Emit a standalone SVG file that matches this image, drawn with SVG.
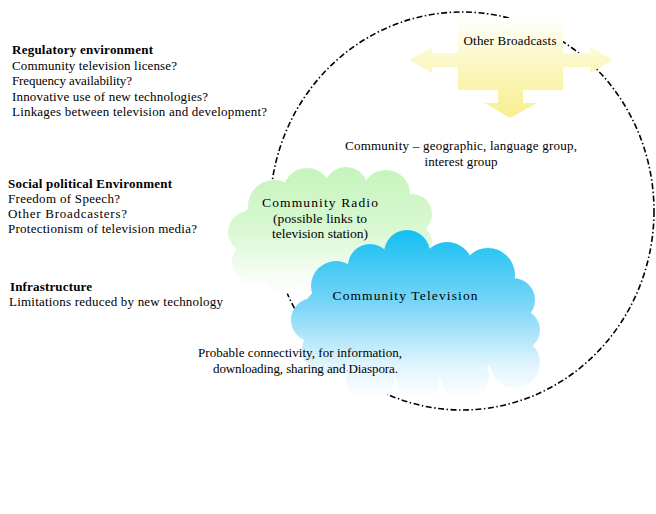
<svg xmlns="http://www.w3.org/2000/svg" width="656" height="514" viewBox="0 0 656 514">
<style>
text{font-family:"Liberation Serif","Times New Roman",serif;fill:#000;}
.t{font-size:13px;}
.b{font-size:13px;font-weight:bold;}
.c{font-size:13.5px;text-anchor:middle;}
.ring{fill:none;stroke:#000;stroke-width:1.6;stroke-dasharray:6 2.5 1.5 2.5;}
</style>
<defs>
<linearGradient id="gy" gradientUnits="userSpaceOnUse" x1="0" y1="18" x2="0" y2="118">
<stop offset="0" stop-color="#ffffff"/>
<stop offset="0.45" stop-color="#fbf8c4"/>
<stop offset="1" stop-color="#f8ee8e"/>
</linearGradient>
<linearGradient id="gg" gradientUnits="userSpaceOnUse" x1="0" y1="165" x2="0" y2="296">
<stop offset="0" stop-color="#c4f4bb"/>
<stop offset="0.5" stop-color="#d9f8d3"/>
<stop offset="0.85" stop-color="#f6fdf5"/>
<stop offset="1" stop-color="#ffffff"/>
</linearGradient>
<linearGradient id="gb" gradientUnits="userSpaceOnUse" x1="0" y1="230" x2="0" y2="400">
<stop offset="0" stop-color="#12bff2"/>
<stop offset="0.45" stop-color="#7dd6f7"/>
<stop offset="0.8" stop-color="#e2f5fd"/>
<stop offset="1" stop-color="#ffffff"/>
</linearGradient>
</defs>
<rect width="656" height="514" fill="#fff"/>

<g id="connectors">
<ellipse class="ring" cx="462" cy="211" rx="192" ry="199"/>
</g>

<g id="other-broadcasts">
<path d="M458 18 H563 V53 H590 V47 L613 60 L590 73 V67 H563 V90 H523 V103 H537 L510 118 L485 103 H498 V90 H458 V67 H432 V73 L409 60 L432 47 V53 H458 Z" fill="url(#gy)"/>
<text class="t" x="510" y="45" text-anchor="middle" textLength="93">Other Broadcasts</text>
</g>

<g id="community-label">
<text class="t" x="461" y="150" text-anchor="middle" textLength="232">Community – geographic, language group,</text>
<text class="t" x="461" y="166" text-anchor="middle" textLength="73">interest group</text>
</g>

<g id="community-radio" fill="url(#gg)">
<ellipse cx="330" cy="235" rx="95" ry="52"/>
<circle cx="274" cy="206" r="26"/>
<circle cx="307" cy="192" r="24"/>
<circle cx="346" cy="189" r="22"/>
<circle cx="386" cy="194" r="24"/>
<circle cx="412" cy="214" r="20"/>
<circle cx="249" cy="232" r="21"/>
<circle cx="254" cy="262" r="22"/>
<circle cx="283" cy="274" r="20"/>
<circle cx="415" cy="242" r="17"/>
<text class="c" x="320" y="207" textLength="116">Community Radio</text>
<text class="c" x="320" y="223" textLength="94">(possible links to</text>
<text class="c" x="320" y="238" textLength="96">television station)</text>
</g>

<g id="community-television" fill="url(#gb)">
<ellipse cx="415" cy="320" rx="115" ry="60"/>
<circle cx="407" cy="253" r="23"/>
<circle cx="447" cy="268" r="26"/>
<circle cx="488" cy="275" r="27"/>
<circle cx="513" cy="300" r="22"/>
<circle cx="520" cy="330" r="20"/>
<circle cx="515" cy="363" r="25"/>
<circle cx="465" cy="376" r="24"/>
<circle cx="418" cy="382" r="21"/>
<circle cx="370" cy="378" r="24"/>
<circle cx="327" cy="350" r="25"/>
<circle cx="313" cy="320" r="22"/>
<circle cx="336" cy="286" r="25"/>
<circle cx="370" cy="266" r="22"/>
<text class="c" x="405" y="300" textLength="145">Community Television</text>
</g>

<g id="connectivity-label">
<text class="t" x="198" y="357" textLength="204">Probable connectivity, for information,</text>
<text class="t" x="213" y="373" textLength="185">downloading, sharing and Diaspora.</text>
</g>

<g id="regulatory">
<text class="b" x="12" y="54" textLength="141">Regulatory environment</text>
<text class="t" x="12" y="69.5" textLength="165">Community television license?</text>
<text class="t" x="12" y="85" textLength="120">Frequency availability?</text>
<text class="t" x="12" y="100.5" textLength="196">Innovative use of new technologies?</text>
<text class="t" x="12" y="116" textLength="255">Linkages between television and development?</text>
</g>

<g id="social-political">
<text class="b" x="8" y="188" textLength="164">Social political Environment</text>
<text class="t" x="8" y="202.5" textLength="112">Freedom of Speech?</text>
<text class="t" x="8" y="217.5" textLength="119">Other Broadcasters?</text>
<text class="t" x="8" y="232.5" textLength="189">Protectionism of television media?</text>
</g>

<g id="infrastructure">
<text class="b" x="10" y="291" textLength="82">Infrastructure</text>
<text class="t" x="9" y="306" textLength="214">Limitations reduced by new technology</text>
</g>
</svg>
